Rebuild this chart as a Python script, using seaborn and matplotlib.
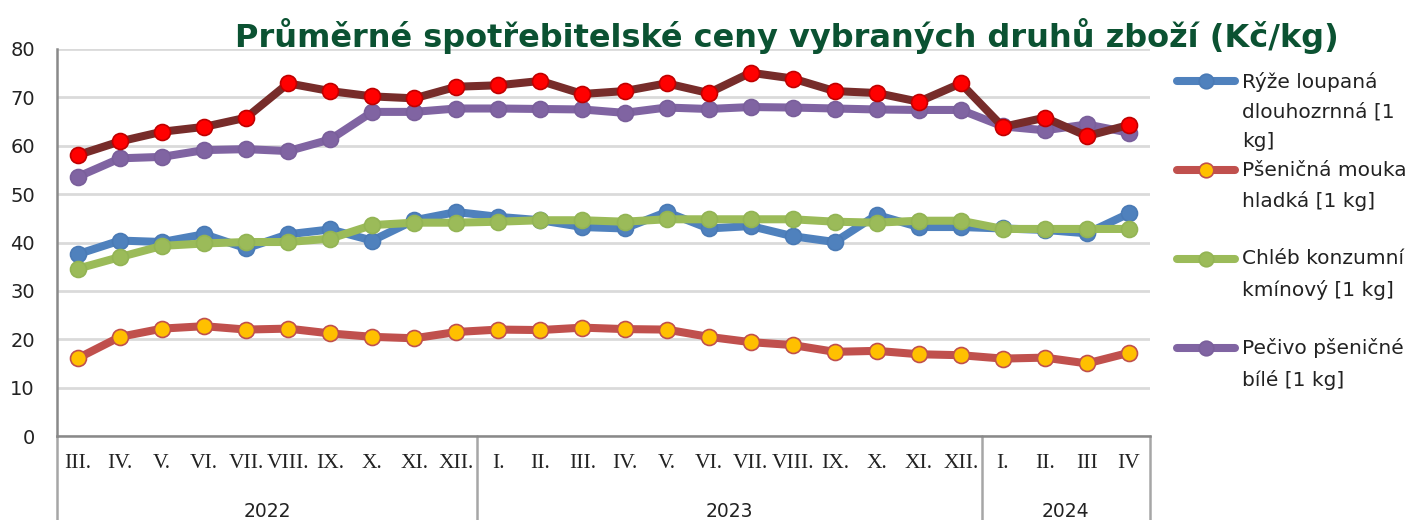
import matplotlib
matplotlib.use("Agg")
import matplotlib.pyplot as plt
import seaborn as sns
import pandas as pd
import numpy as np
from matplotlib.transforms import blended_transform_factory

# ---------------- data ----------------
months = ["III.", "IV.", "V.", "VI.", "VII.", "VIII.", "IX.", "X.", "XI.", "XII.",
          "I.", "II.", "III.", "IV.", "V.", "VI.", "VII.", "VIII.", "IX.", "X.", "XI.", "XII.",
          "I.", "II.", "III", "IV"]
years = ["2022", "2023", "2024"]
year_counts = [10, 12, 4]

ryze = [37.6, 40.4, 40.1, 41.7, 38.8, 41.7, 42.7, 40.4, 44.6, 46.3,
        45.3, 44.6, 43.2, 42.9, 46.3, 42.9, 43.4, 41.3, 40.1, 45.7, 43.2, 43.2,
        42.9, 42.6, 41.9, 46.0]
mouka = [16.1, 20.5, 22.2, 22.7, 22.0, 22.2, 21.2, 20.5, 20.2, 21.5,
         22.0, 21.9, 22.4, 22.1, 22.0, 20.5, 19.4, 18.8, 17.4, 17.6, 16.9, 16.7,
         16.0, 16.2, 15.0, 17.2]
chleb = [34.6, 37.0, 39.3, 39.8, 40.1, 40.1, 40.8, 43.6, 44.1, 44.1,
         44.3, 44.6, 44.6, 44.3, 44.8, 44.8, 44.8, 44.8, 44.3, 44.1, 44.5, 44.5,
         42.8, 42.8, 42.8, 42.8]
pecivo = [53.6, 57.4, 57.7, 59.1, 59.3, 58.9, 61.3, 67.0, 67.0, 67.7,
          67.7, 67.6, 67.5, 66.8, 67.9, 67.6, 68.0, 67.9, 67.7, 67.5, 67.4, 67.4,
          64.0, 63.2, 64.4, 62.7]
dark = [58.1, 60.9, 62.9, 63.9, 65.8, 72.9, 71.3, 70.2, 69.8, 72.2,
        72.5, 73.4, 70.7, 71.3, 72.9, 70.9, 75.1, 73.9, 71.3, 70.9, 69.1, 72.9,
        63.9, 65.8, 62.0, 64.3]

labels = ["Rýže loupaná\ndlouhozrnná [1\nkg]",
          "Pšeničná mouka\nhladká [1 kg]",
          "Chléb konzumní\nkmínový [1 kg]",
          "Pečivo pšeničné\nbílé [1 kg]"]

title = "Průměrné spotřebitelské ceny vybraných druhů zboží (Kč/kg)"

# ---------------- styling ----------------
sns.set_theme(style="white")
plt.rcParams["font.family"] = ["DejaVu Sans"]

W, H = 1410, 520
fig = plt.figure(figsize=(W / 100, H / 100), dpi=100)
ax = fig.add_axes([57 / W, 84 / H, 1093 / W, 387 / H])

idx = np.arange(len(months))
df = pd.DataFrame({"idx": idx, "ryze": ryze, "mouka": mouka, "chleb": chleb,
                   "pecivo": pecivo, "dark": dark})

series = [
    ("ryze", "#4f81bd", "#4f81bd", "#4a7ab5"),
    ("mouka", "#c0504d", "#ffc000", "#c0504d"),
    ("chleb", "#9bbb59", "#9bbb59", "#93b454"),
    ("pecivo", "#8064a2", "#8064a2", "#7a5f9b"),
    ("dark", "#772c2a", "#ff0000", "#c00000"),
]
LW = 5.8
MS = 11.5
for name, lc, mfc, mec in series:
    sns.lineplot(data=df, x="idx", y=name, ax=ax, color=lc, lw=LW,
                 marker="o", markersize=MS, markerfacecolor=mfc,
                 markeredgecolor=mec, markeredgewidth=1.2, legend=False,
                 solid_joinstyle="round", solid_capstyle="round")

ax.set_xlim(-0.5, len(months) - 0.5)
ax.set_ylim(0, 80)
ax.set_yticks(np.arange(0, 81, 10))
ax.yaxis.grid(True, color="#dadada", lw=2)
ax.set_axisbelow(True)
ax.set_xlabel("")
ax.set_ylabel("")
for s in ["top", "right"]:
    ax.spines[s].set_visible(False)
for s in ["left", "bottom"]:
    ax.spines[s].set_color("#898989")
    ax.spines[s].set_linewidth(1.8)
ax.spines["left"].set_bounds(0, 80)

ax.set_xticks(idx)
ax.set_xticklabels(months, family="Liberation Serif", fontsize=15.5, color="#222222")
ax.tick_params(axis="x", length=0, pad=13)
ax.tick_params(axis="y", length=0, pad=16, labelsize=14, labelcolor="#222222")

# year group labels and separators
tr = blended_transform_factory(ax.transData, ax.transAxes)
bounds = np.concatenate([[0], np.cumsum(year_counts)]) - 0.5
for b in bounds:
    ax.plot([b, b], [0, -0.22], transform=tr, color="#a6a6a6", lw=1.8,
            clip_on=False)
for i, y in enumerate(years):
    c = (bounds[i] + bounds[i + 1]) / 2
    ax.text(c, -0.195, y, transform=tr, ha="center", va="center",
            fontsize=13.5, color="#222222")

# title
fig.text(787 / W, 1 - 47 / H, title, ha="center", va="baseline",
         fontsize=23, fontweight="heavy", color="#0b5232")

# legend (manually laid out to match the reference's wrapping)
lax = fig.add_axes([0, 0, 1, 1], facecolor="none")
lax.set_axis_off()
lax.set_xlim(0, W)
lax.set_ylim(H, 0)
for i, (name, lc, mfc, mec) in enumerate(series[:4]):
    y0 = 81 + 89 * i
    lax.plot([1177, 1206, 1235], [y0, y0, y0], color=lc, lw=LW,
             marker="o", markersize=MS - 1, markevery=[1],
             markerfacecolor=mfc, markeredgecolor=mec, markeredgewidth=1.2,
             solid_capstyle="round")
    lax.text(1242, y0 - 9.5, labels[i], ha="left", va="top", fontsize=14.5,
             linespacing=1.72, color="#222222")

fig.savefig("out.png", dpi=100)
